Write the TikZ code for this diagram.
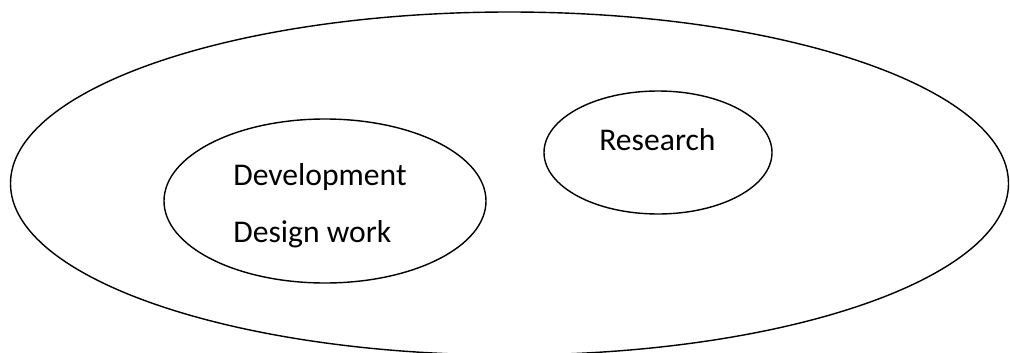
\documentclass[tikz,border=0pt]{standalone}
\usepackage{fontspec}
\setmainfont{Carlito}
\usepackage{tikz}
\usetikzlibrary{shapes.geometric}

\begin{document}
\begin{tikzpicture}[
	blob/.style={draw, ellipse, line width=0.8pt, inner sep=0pt},
	lbl/.style={anchor=base west, inner sep=0pt, font=\fontsize{18}{22}\selectfont}
	]
	\useasboundingbox (0,0) rectangle (20.2,-7.04);
	\node[blob, minimum width=19.96cm, minimum height=6.86cm] (whole) at (10.19,-3.67) {};
	\node[blob, minimum width=6.44cm, minimum height=3.28cm] (dev) at (6.5,-4.02) {};
	\node[blob, minimum width=4.56cm, minimum height=2.46cm] (res) at (13.16,-3.05) {};
	\node[lbl] (devtxt) at (4.66,-3.70) {Development};
	\node[lbl] (destxt) at (4.66,-4.84) {Design work};
	\node[lbl] (restxt) at (11.98,-3.0) {Research};
\end{tikzpicture}
\end{document}
